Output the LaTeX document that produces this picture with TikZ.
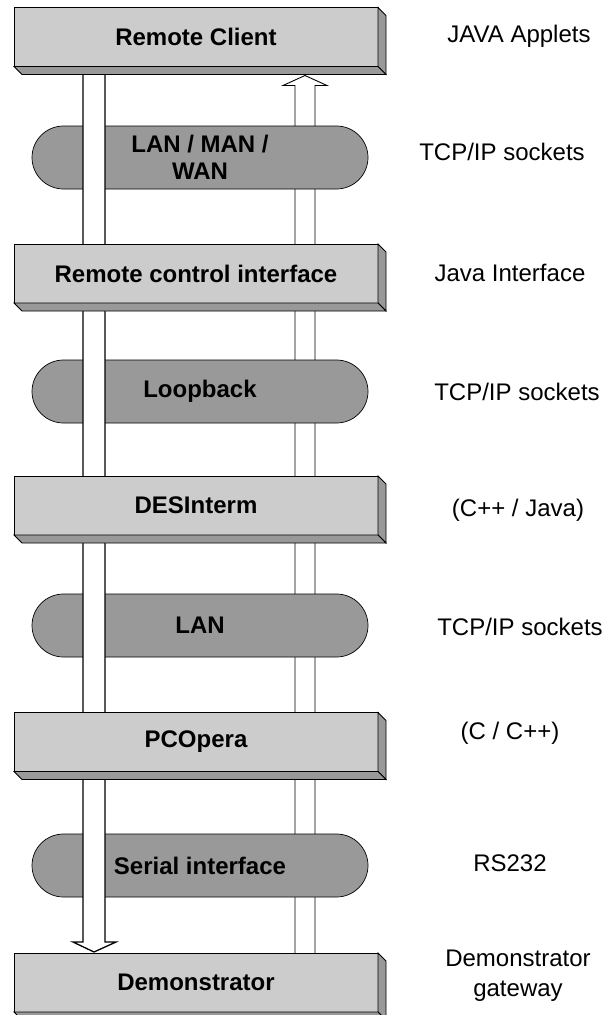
\documentclass[tikz,border=0pt]{standalone}
\usepackage{fontspec}
\setmainfont{Liberation Sans}
\usetikzlibrary{shapes.misc,calc}
\definecolor{boxgray}{gray}{0.8}
\definecolor{pillgray}{gray}{0.6}
\definecolor{bevelgray}{gray}{0.6}
\pgfdeclarelayer{front}
\pgfsetlayers{main,front}
\newcommand\mybevel[1]{%
  \filldraw[fill=bevelgray,line width=0.8pt] (#1.north east) -- ++(8,8) -- ($(#1.south east)+(8,8)$) -- (#1.south east) -- cycle;
  \filldraw[fill=bevelgray,line width=0.8pt] (#1.south west) -- ++(8,8) -- ($(#1.south east)+(8,8)$) -- (#1.south east) -- cycle;}
\begin{document}
\begin{tikzpicture}[x=1pt,y=-1pt,
  box/.style={draw,line width=0.8pt,fill=boxgray,minimum width=364pt,minimum height=59pt,inner sep=0pt,outer sep=0pt,font=\fontsize{24}{28}\selectfont\bfseries},
  pill/.style={rounded rectangle,draw,line width=0.7pt,fill=pillgray,minimum width=336pt,minimum height=63pt,inner sep=0pt,outer sep=0pt,align=center,font=\fontsize{24}{27}\selectfont\bfseries},
  lbl/.style={align=center,font=\fontsize{24}{30}\selectfont},
  hollowL/.style={draw,fill=white,line width=1.3pt,line join=miter},
  hollowR/.style={draw,fill=white,line width=0.9pt,line join=miter}]
\useasboundingbox (0,0) rectangle (612,1015);
% boxes (on top of everything)
\begin{pgfonlayer}{front}
\node[box] (rc) at (196,37) {Remote Client};
\mybevel{rc}
\node[box] (rci) at (196,273.5) {Remote control interface};
\mybevel{rci}
\node[box] (des) at (196,505.5) {DESInterm};
\mybevel{des}
\node[box] (pco) at (196,742) {PCOpera};
\mybevel{pco}
\node[box] (dm) at (196,982.5) {Demonstrator};
\mybevel{dm}
\end{pgfonlayer}
% right (upward) arrow, behind the pills
\filldraw[hollowR] ($(dm.north west)+(281,0)$) -- ($(rc.south west)+(281,19)$) -- ($(rc.south west)+(269,19)$) -- ($(rc.south west)+(291,9)$) -- ($(rc.south west)+(313,19)$) -- ($(rc.south west)+(301,19)$) -- ($(dm.north west)+(301,0)$);
% pills
\node[pill] (wan) at (200,157.5) {LAN / MAN /\\WAN};
\node[pill] (loop) at (200,391.5) {Loopback};
\node[pill] (lan) at (200,625.5) {LAN};
\node[pill] (ser) at (200,865.5) {\raisebox{-4pt}{Serial interface}};
% left (downward) arrow, over the pills
\filldraw[hollowL] ($(rc.south west)+(69,8)$) -- ($(dm.north west)+(69,-11)$) -- ($(dm.north west)+(59,-11)$) -- ($(dm.north west)+(80,-1)$) -- ($(dm.north west)+(102,-11)$) -- ($(dm.north west)+(91,-11)$) -- ($(rc.south west)+(91,8)$);
% side labels
\node[lbl] (l1) at (519,36) {JAVA Applets};
\node[lbl] (l2) at (502,152) {TCP/IP sockets};
\node[lbl] (l3) at (510,273) {Java Interface};
\node[lbl] (l4) at (517,392) {TCP/IP sockets};
\node[lbl] (l5) at (518,510) {(C++ / Java)};
\node[lbl] (l6) at (520,627) {TCP/IP sockets};
\node[lbl] (l7) at (510,733) {(C / C++)};
\node[lbl] (l8) at (510,863) {RS232};
\node[lbl] (l9) at (518,976) {Demonstrator\\gateway};
\end{tikzpicture}
\end{document}
